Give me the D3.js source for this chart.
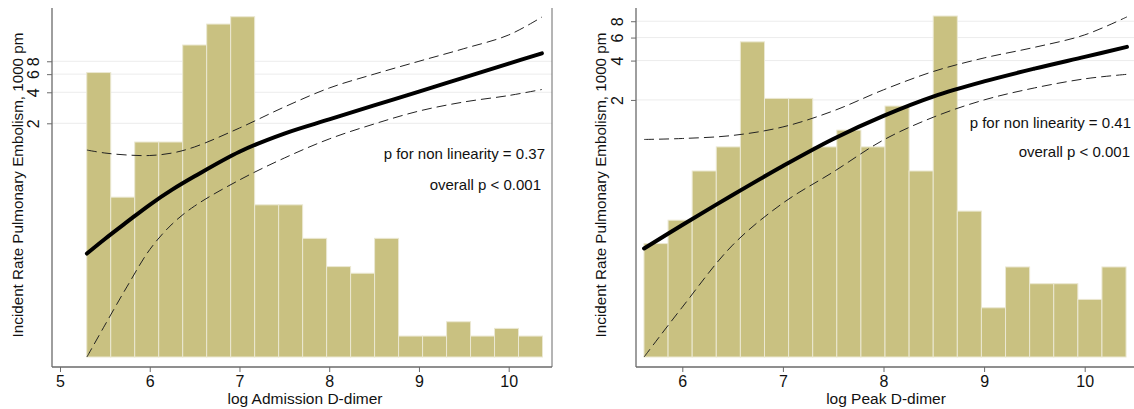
<!DOCTYPE html>
<html>
<head>
<meta charset="utf-8">
<script src="https://cdn.jsdelivr.net/npm/d3@7"></script>
<style>
  body { margin: 0; background: #fff; }
  svg { display: block; font-family: "Liberation Sans", Arial, sans-serif; }
</style>
</head>
<body>
<div id="chart"></div>
<script>
// ---- data ----
// histogram bars (relative height, hidden axis)
var admBinStart = 5.298, admBinWidth = 0.2673;
var admBars = [81.5, 45.8, 61.6, 61.6, 89.4, 95.4, 97.5, 43.6, 43.6, 34.0, 25.9, 24.0, 34.0, 6.0, 6.0, 10.1, 6.0, 8.2, 6.0];
var peakBinStart = 5.619, peakBinWidth = 0.2396;
var peakBars = [32.5, 39.2, 53.3, 60.2, 90.3, 74.1, 74.1, 60.2, 65.0, 60.2, 71.9, 53.3, 97.7, 41.8, 14.1, 25.8, 21.0, 21.0, 16.5, 25.8];

// spline fit, incident rate per 1000 pm (log scale)
var admX     = [5.3, 5.5, 5.75, 6.0, 6.25, 6.5, 7.0, 7.5, 8.0, 8.5, 9.0, 9.5, 10.0, 10.37];
var admFit   = [0.109, 0.151, 0.222, 0.324, 0.454, 0.612, 1.06, 1.59, 2.18, 2.98, 4.06, 5.56, 7.60, 9.56];
var admUpper = [1.10, 1.03, 0.985, 0.974, 1.03, 1.18, 1.80, 2.88, 4.40, 6.00, 8.00, 10.6, 14.4, 21.5];
var admLower = [0.0108, 0.0220, 0.0526, 0.119, 0.211, 0.315, 0.564, 0.921, 1.41, 1.97, 2.63, 3.22, 3.72, 4.26];

var peakX     = [5.62, 6.0, 6.5, 7.0, 7.5, 8.0, 8.5, 9.0, 9.5, 10.0, 10.42];
var peakFit   = [0.146, 0.221, 0.375, 0.625, 1.006, 1.51, 2.13, 2.77, 3.47, 4.27, 5.09];
var peakUpper = [0.997, 1.014, 1.070, 1.243, 1.647, 2.39, 3.31, 4.19, 5.05, 6.29, 8.64];
var peakLower = [0.0216, 0.052, 0.155, 0.325, 0.562, 0.988, 1.48, 2.00, 2.47, 2.90, 3.14];

var yTicks = [2, 4, 6, 8];
var admXTicks = [5, 6, 7, 8, 9, 10];
var peakXTicks = [6, 7, 8, 9, 10];

var statsAdm = ["p for non linearity = 0.37", "overall p < 0.001"];
var statsPeak = ["p for non linearity = 0.41", "overall p < 0.001"];

var W = 1134, H = 409;
var svg = d3.select("#chart").append("svg").attr("width", W).attr("height", H);

var axisCol = "#6a6a6a", barCol = "#c9c181", barEdge = "#ebe8d2", gridCol = "#ececec";

function panel(o) {
  var g = svg.append("g");
  var x = d3.scaleLinear().domain(o.xDom).range(o.xRange);
  var y = d3.scaleLog().domain(o.yDom).range([o.base, o.top]);
  var h = d3.scaleLinear().domain([0, 100]).range([o.base, o.top]);

  // grid
  g.selectAll("line.grid").data(yTicks).enter().append("line")
    .attr("x1", o.left).attr("x2", o.right)
    .attr("y1", d => y(d)).attr("y2", d => y(d))
    .attr("stroke", gridCol).attr("stroke-width", 1);

  // histogram
  g.selectAll("rect.bar").data(o.bars).enter().append("rect")
    .attr("x", (d, i) => x(o.binStart + i * o.binWidth))
    .attr("width", (d, i) => x(o.binStart + (i + 1) * o.binWidth) - x(o.binStart + i * o.binWidth))
    .attr("y", d => h(d))
    .attr("height", d => o.base - h(d))
    .attr("fill", barCol).attr("stroke", barEdge).attr("stroke-width", 1);

  // curves
  var line = d3.line().x(d => x(d[0])).y(d => y(d[1])).curve(d3.curveCatmullRom.alpha(0.5));
  function series(vals) { return o.cx.map((v, i) => [v, vals[i]]); }
  g.append("path").attr("d", line(series(o.upper)))
    .attr("fill", "none").attr("stroke", "#222").attr("stroke-width", 1).attr("stroke-dasharray", "10,5");
  g.append("path").attr("d", line(series(o.lower)))
    .attr("fill", "none").attr("stroke", "#222").attr("stroke-width", 1).attr("stroke-dasharray", "10,5");
  g.append("path").attr("d", line(series(o.fit)))
    .attr("fill", "none").attr("stroke", "#000").attr("stroke-width", 4).attr("stroke-linecap", "round");

  // axes lines
  g.append("line").attr("x1", o.left).attr("x2", o.left).attr("y1", o.top).attr("y2", o.axisY)
    .attr("stroke", axisCol).attr("stroke-width", 1.3);
  g.append("line").attr("x1", o.left).attr("x2", o.right).attr("y1", o.axisY).attr("y2", o.axisY)
    .attr("stroke", axisCol).attr("stroke-width", 1.3);
  if (o.frame) {
    g.append("line").attr("x1", o.right).attr("x2", o.right).attr("y1", o.top).attr("y2", o.axisY)
      .attr("stroke", axisCol).attr("stroke-width", 1);
  }

  // x axis
  var xa = g.append("g").attr("transform", "translate(0," + o.axisY + ")")
    .call(d3.axisBottom(x).tickValues(o.xTicks).tickSize(5).tickFormat(d3.format("d")));
  xa.select(".domain").remove();
  xa.selectAll("line").attr("stroke", axisCol);
  xa.selectAll("text").attr("y", 9).attr("font-size", 16).attr("fill", "#111")
    .attr("font-family", "Liberation Sans, Arial, sans-serif");

  // y axis (rotated labels)
  var ya = g.append("g").attr("transform", "translate(" + o.left + ",0)")
    .call(d3.axisLeft(y).tickValues(yTicks).tickSize(5).tickFormat(d3.format("d")));
  ya.select(".domain").remove();
  ya.selectAll("line").attr("stroke", axisCol);
  ya.selectAll("text")
    .attr("x", 0).attr("dy", 0).attr("text-anchor", "middle")
    .attr("transform", "translate(-13,0) rotate(-90)")
    .attr("font-size", 16).attr("fill", "#111")
    .attr("font-family", "Liberation Sans, Arial, sans-serif");

  // titles
  g.append("text").attr("x", o.xTitleX).attr("y", 404).attr("text-anchor", "middle")
    .attr("font-size", 15.5).attr("fill", "#111").text(o.xTitle);
  g.append("text").attr("transform", "translate(" + o.yTitleX + ",185) rotate(-90)")
    .attr("text-anchor", "middle").attr("font-size", 15.2).attr("fill", "#111")
    .text("Incident Rate Pulmonary Embolism, 1000 pm");

  // stats
  g.selectAll("text.stat").data(o.stats).enter().append("text")
    .attr("x", (d, i) => o.statX[i]).attr("y", (d, i) => o.statY[i])
    .attr("text-anchor", "end").attr("font-size", 15).attr("fill", "#111")
    .text(d => d);
}

panel({
  xDom: [5, 10], xRange: [60, 508.7], yDom: [0.0108, 26.3],
  left: 52, right: 552, top: 8, base: 357, axisY: 367, frame: true,
  bars: admBars, binStart: admBinStart, binWidth: admBinWidth,
  cx: admX, fit: admFit, upper: admUpper, lower: admLower,
  xTicks: admXTicks, xTitle: "log Admission D-dimer", xTitleX: 305, yTitleX: 23,
  stats: statsAdm, statX: [545, 541], statY: [159, 190]
});

panel({
  xDom: [6, 10], xRange: [682.3, 1084.7], yDom: [0.0216, 10.1],
  left: 636, right: 1134, top: 8, base: 357, axisY: 367, frame: false,
  bars: peakBars, binStart: peakBinStart, binWidth: peakBinWidth,
  cx: peakX, fit: peakFit, upper: peakUpper, lower: peakLower,
  xTicks: peakXTicks, xTitle: "log Peak D-dimer", xTitleX: 886, yTitleX: 606,
  stats: statsPeak, statX: [1131, 1130], statY: [128, 157]
});
</script>
</body>
</html>
